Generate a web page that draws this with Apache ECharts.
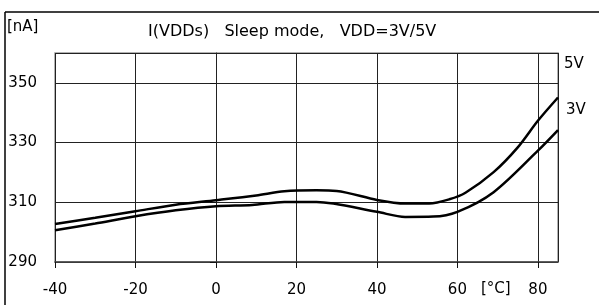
<!DOCTYPE html>
<html>
<head>
<meta charset="utf-8">
<script src="https://cdn.jsdelivr.net/npm/echarts@6/dist/echarts.min.js"></script>
<style>
html, body { margin: 0; padding: 0; background: #fff; }
#chart { width: 599px; height: 305px; }
</style>
</head>
<body>
<div id="chart"></div>
<script>
// 5V curve (upper)
var temps5 = [-40, -30, -20, -10, 0, 10, 17, 25, 30, 40, 47, 53, 58, 62, 69, 75, 80, 85]
var vdd5 = [302.7, 304.8, 307, 309.2, 310.7, 312.3, 313.7, 314, 313.8, 310.8, 309.6, 309.6, 311, 313.2, 320.1, 328.4, 337.3, 345.1]
// 3V curve (lower)
var temps3 = [-40, -30, -20, -10, 0, 9, 17, 25, 40, 47, 54, 60, 69, 80, 85]
var vdd3 = [300.6, 302.9, 305.3, 307.3, 308.7, 309.1, 310.1, 310.1, 306.8, 305.1, 305.2, 306.8, 313.4, 327.3, 334.2]
var xTicks = [-40, -20, 0, 20, 40, 60, 80]
var yTicks = [290, 310, 330, 350]

function pairs(xs, ys) {
  return xs.map(function(x, i) { return [x, ys[i]] })
}

var chart = echarts.init(document.getElementById('chart'))
var font = '"DejaVu Sans", Arial, sans-serif'
var option = {
  animation: false,
  grid: {
    left: 55,
    top: 53,
    right: 41,
    bottom: 43,
    show: true,
    borderColor: '#999',
    borderWidth: 1.5
  },
  xAxis: {
    type: 'value',
    min: -40,
    max: 85,
    interval: 20,
    axisLine: { lineStyle: { color: '#444', width: 1.5 } },
    axisTick: { show: true, length: 6, lineStyle: { color: '#111' } },
    axisLabel: {
      color: '#000',
      fontSize: 15,
      fontFamily: font,
      margin: 21,
      showMaxLabel: false,
      formatter: function(v) { return xTicks.indexOf(v) >= 0 ? String(v) : '' }
    },
    splitLine: { lineStyle: { color: '#222', width: 1 } }
  },
  yAxis: {
    type: 'value',
    min: 290,
    max: 360,
    interval: 20,
    axisLine: { show: true, lineStyle: { color: '#222', width: 1 } },
    axisTick: { show: true, length: 6, lineStyle: { color: '#111' } },
    axisLabel: {
      color: '#000',
      fontSize: 15,
      fontFamily: font,
      margin: 18,
      align: 'right',
      showMaxLabel: false,
      formatter: function(v) { return yTicks.indexOf(v) >= 0 ? String(v) : '' }
    },
    splitLine: { lineStyle: { color: '#222', width: 1 } }
  },
  series: [
    {
      name: '5V',
      type: 'line',
      data: pairs(temps5, vdd5),
      smooth: 0.3,
      symbol: 'none',
      lineStyle: { color: '#000', width: 2.5 }
    },
    {
      name: '3V',
      type: 'line',
      data: pairs(temps3, vdd3),
      smooth: 0.3,
      symbol: 'none',
      lineStyle: { color: '#000', width: 2.5 }
    }
  ],
  graphic: [
    // outer frame, left and top only
    { type: 'line', shape: { x1: 5, y1: 12, x2: 599, y2: 12 }, style: { stroke: '#000', lineWidth: 1.5 } },
    { type: 'line', shape: { x1: 5, y1: 12, x2: 5, y2: 305 }, style: { stroke: '#000', lineWidth: 1.5 } },
    { type: 'text', left: 7, top: 20, style: { text: '[nA]', fill: '#000', font: '15px ' + font } },
    { type: 'text', left: 148, top: 24, style: { text: 'I(VDDs)   Sleep mode,   VDD=3V/5V', fill: '#000', font: '16px ' + font } },
    { type: 'text', left: 481, top: 282, style: { text: '[°C]', fill: '#000', font: '15px ' + font } },
    { type: 'text', left: 564, top: 57, style: { text: '5V', fill: '#000', font: '15px ' + font } },
    { type: 'text', left: 566, top: 103, style: { text: '3V', fill: '#000', font: '15px ' + font } }
  ]
}
chart.setOption(option)
</script>
</body>
</html>
